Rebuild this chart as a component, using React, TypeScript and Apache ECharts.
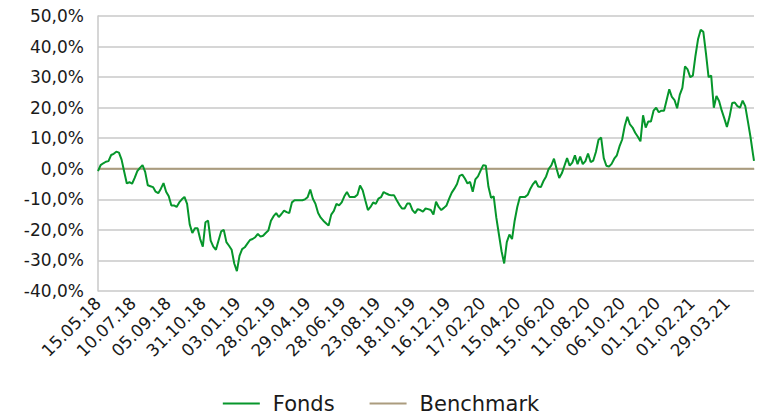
import React, { useEffect, useRef } from "react";
import * as echarts from "echarts";

// ---------- data ----------
// Trading calendar: weekdays between the first and last valuation date, minus closed days
const firstDay = "2018-05-15";
const lastDay = "2021-05-14";
const closedDays = [
  "2018-08-15", "2018-11-01", "2018-12-24", "2018-12-25", "2018-12-26", "2018-12-31",
  "2019-01-01", "2019-04-19", "2019-04-22", "2019-05-01", "2019-05-30", "2019-06-10",
  "2019-06-20", "2019-11-01", "2019-12-24", "2019-12-25", "2019-12-26", "2019-12-31",
  "2020-01-01", "2020-04-10", "2020-04-13", "2020-05-01", "2020-05-21", "2020-06-01",
  "2020-07-31", "2020-12-24", "2020-12-25", "2020-12-31", "2021-01-01", "2021-04-02",
  "2021-04-05", "2021-05-13",
];

// Fonds performance in %, every 3rd trading day (last value = last day)
const sampleStep = 3;
const fondsSamples = [
  -0.8, 1.2, 1.8, 2.3, 2.5, 4.5, 4.9, 5.6, 5.3, 3.0,
  -1.0, -4.8, -4.4, -4.9, -3.0, -0.8, 0.3, 1.2, -1.0, -5.4,
  -5.7, -6.0, -7.5, -8.0, -6.5, -4.7, -7.5, -9.0, -12.0, -12.0,
  -12.5, -11.0, -10.0, -9.2, -11.5, -18.2, -21.0, -19.5, -19.5, -23.0,
  -25.5, -17.5, -17.0, -23.5, -25.5, -26.5, -23.5, -20.5, -20.0, -24.0,
  -25.2, -26.5, -31.0, -33.5, -28.5, -26.3, -25.7, -24.5, -23.3, -23.0,
  -22.4, -21.3, -22.2, -21.9, -21.0, -20.2, -17.0, -15.5, -14.5, -15.8,
  -14.8, -13.7, -14.2, -14.5, -11.0, -10.3, -10.3, -10.3, -10.3, -10.0,
  -9.3, -6.8, -9.8, -11.5, -14.5, -16.0, -17.0, -17.8, -18.6, -15.0,
  -13.8, -11.5, -12.0, -11.0, -9.0, -7.6, -9.2, -9.2, -9.2, -8.5,
  -5.5, -7.0, -10.3, -13.5, -12.5, -11.0, -11.5, -9.8, -9.3, -7.6,
  -8.1, -8.5, -8.7, -8.7, -10.3, -11.8, -13.0, -13.0, -11.4, -11.4,
  -13.5, -14.5, -13.2, -13.5, -14.0, -13.0, -13.2, -13.5, -15.0, -10.8,
  -12.5, -13.5, -12.8, -12.0, -9.8, -7.8, -6.5, -5.0, -2.3, -1.9,
  -3.2, -4.8, -4.3, -7.5, -3.5, -2.5, -0.6, 1.2, 1.0, -5.9,
  -9.5, -9.0, -16.0, -21.5, -27.0, -31.0, -24.0, -21.5, -23.0, -17.0,
  -12.5, -9.2, -9.2, -9.2, -8.5, -6.5, -5.0, -4.0, -5.8, -6.0,
  -4.0, -2.5, 0.0, 1.1, 3.3, 0.0, -3.0, -1.5, 1.0, 3.5,
  1.0, 2.0, 4.4, 1.5, 4.0, 1.5, 2.5, 5.0, 2.2, 2.7,
  5.5, 9.5, 10.2, 3.5, 1.0, 0.7, 1.6, 3.3, 4.4, 7.3,
  9.5, 14.0, 17.0, 14.5, 13.5, 11.8, 10.5, 9.0, 17.5, 13.5,
  15.5, 15.5, 19.0, 20.0, 18.5, 19.0, 19.0, 22.5, 26.0, 23.5,
  22.5, 19.8, 24.2, 26.5, 33.5, 32.5, 30.0, 30.5, 37.0, 42.5,
  45.5, 44.8, 37.8, 30.0, 30.5, 20.0, 23.8, 22.2, 19.1, 16.5,
  13.7, 17.0, 21.5, 21.7, 20.5, 20.0, 22.3, 20.5, 15.5, 10.4,
  4.5, 2.6,
];

// Benchmark is flat at 0,0 %
const benchmarkLevel = 0.0;

// y axis
const yMin = -40;
const yMax = 50;
const yStep = 10;
const labelEvery = 40; // one date label per 40 trading days

const seriesNames = ["Fonds", "Benchmark"];
const seriesColors = ["#06962b", "#ab9c7e"];

// ---------- helpers ----------
function buildDates(): string[] {
  const closed = new Set(closedDays);
  const out: string[] = [];
  const d = new Date(firstDay + "T00:00:00Z");
  const end = new Date(lastDay + "T00:00:00Z").getTime();
  while (d.getTime() <= end) {
    const wd = d.getUTCDay();
    const iso = d.toISOString().slice(0, 10);
    if (wd !== 0 && wd !== 6 && !closed.has(iso)) {
      out.push(iso.slice(8, 10) + "." + iso.slice(5, 7) + "." + iso.slice(2, 4));
    }
    d.setUTCDate(d.getUTCDate() + 1);
  }
  return out;
}

const FONT = "'DejaVu Sans', Verdana, sans-serif";

export default function App() {
  const ref = useRef<HTMLDivElement>(null);
  useEffect(() => {
    if (!ref.current) return;
    const chart = echarts.init(ref.current, undefined, { renderer: "svg" });
    const dates = buildDates();
    const fonds: (number | null)[] = dates.map(() => null);
    fondsSamples.forEach((v, k) => {
      const idx = Math.min(k * sampleStep, dates.length - 1);
      fonds[idx] = v;
    });
    const bench = dates.map(() => benchmarkLevel);

    chart.setOption({
      animation: false,
      backgroundColor: "#ffffff",
      grid: { left: 98, right: 8, top: 16, bottom: 125, containLabel: false },
      legend: {
        bottom: -3,
        left: "center",
        icon: "rect",
        itemWidth: 37,
        itemHeight: 2,
        itemGap: 35,
        data: seriesNames,
        textStyle: {
          fontFamily: FONT,
          fontSize: 21,
          color: "#1a1a1a",
          padding: [0, 0, 0, 8],
        },
      },
      xAxis: {
        type: "category",
        data: dates,
        boundaryGap: false,
        axisLine: { show: true, lineStyle: { color: "#c8c8c8", width: 1.5 } },
        axisTick: { show: false },
        splitLine: { show: false },
        axisLabel: {
          interval: labelEvery - 1,
          rotate: 45,
          margin: 9,
          fontFamily: FONT,
          fontSize: 17,
          color: "#1a1a1a",
        },
      },
      yAxis: {
        type: "value",
        min: yMin,
        max: yMax,
        interval: yStep,
        axisLine: { show: true, lineStyle: { color: "#c8c8c8", width: 1.5 } },
        axisTick: { show: false },
        splitLine: { show: true, lineStyle: { color: "#c8c8c8", width: 1.5 } },
        axisLabel: {
          margin: 14,
          fontFamily: FONT,
          fontSize: 17,
          color: "#1a1a1a",
          formatter: (v: number) => v.toFixed(1).replace(".", ",") + "%",
        },
      },
      series: [
        {
          name: seriesNames[0],
          type: "line",
          data: fonds,
          connectNulls: true,
          symbol: "none",
          showSymbol: false,
          color: seriesColors[0],
          lineStyle: { color: seriesColors[0], width: 2 },
          z: 3,
        },
        {
          name: seriesNames[1],
          type: "line",
          data: bench,
          symbol: "none",
          showSymbol: false,
          color: seriesColors[1],
          lineStyle: { color: seriesColors[1], width: 2 },
          z: 2,
        },
      ],
    });
    return () => chart.dispose();
  }, []);

  return (
    <div
      ref={ref}
      style={{ position: "fixed", left: 0, top: 0, width: 762, height: 416, background: "#fff" }}
    />
  );
}
